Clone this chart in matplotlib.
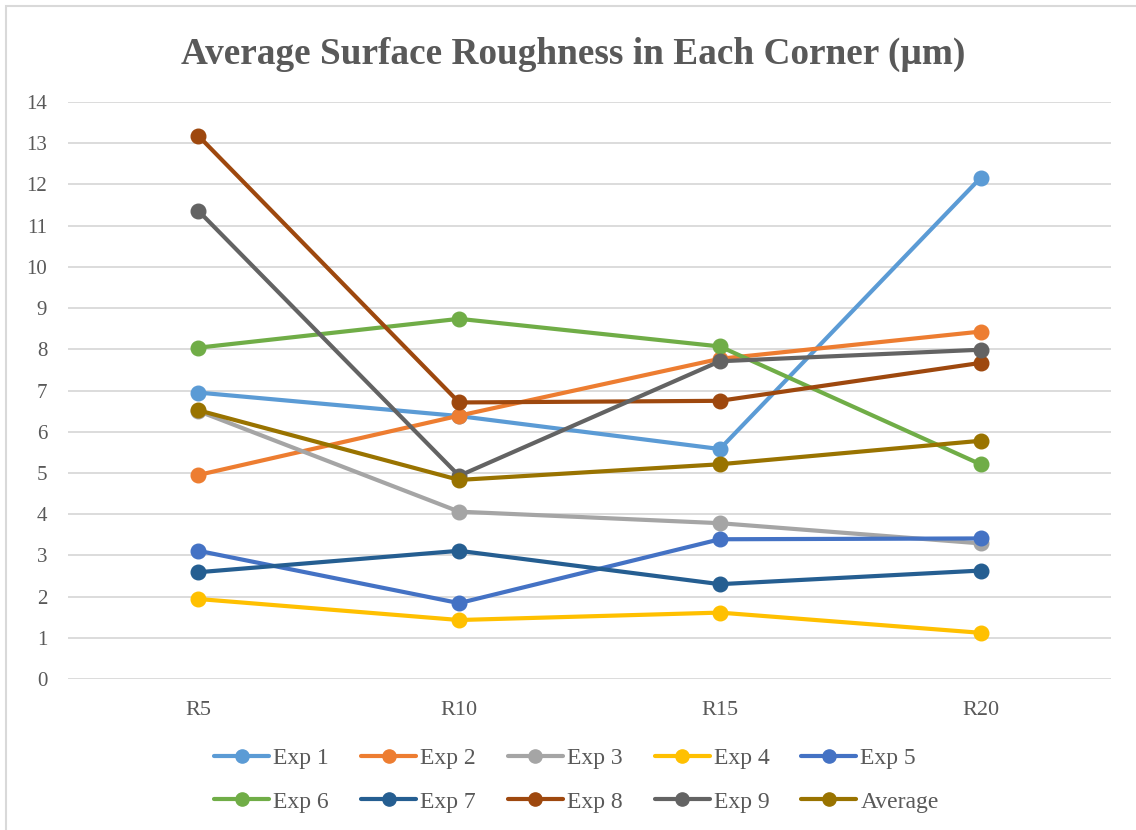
import matplotlib.pyplot as plt
from matplotlib.patches import Rectangle

# data
corners = ["R5", "R10", "R15", "R20"]
exp1 = [6.95, 6.38, 5.58, 12.16]
exp2 = [4.95, 6.39, 7.77, 8.43]
exp3 = [6.50, 4.06, 3.78, 3.29]
exp4 = [1.94, 1.43, 1.61, 1.12]
exp5 = [3.11, 1.84, 3.39, 3.41]
exp6 = [8.04, 8.74, 8.07, 5.21]
exp7 = [2.59, 3.11, 2.30, 2.63]
exp8 = [13.18, 6.71, 6.75, 7.67]
exp9 = [11.36, 4.93, 7.71, 7.99]
average = [6.52, 4.83, 5.21, 5.78]

series = [exp1, exp2, exp3, exp4, exp5, exp6, exp7, exp8, exp9, average]
names = ["Exp 1", "Exp 2", "Exp 3", "Exp 4", "Exp 5",
         "Exp 6", "Exp 7", "Exp 8", "Exp 9", "Average"]
colors = ["#5B9BD5", "#ED7D31", "#A5A5A5", "#FFC000", "#4472C4",
          "#70AD47", "#255E91", "#9E480E", "#636363", "#997300"]

plt.rcParams['font.family'] = ['Liberation Serif', 'DejaVu Serif']
text_col = "#595959"

fig = plt.figure(figsize=(11.36, 8.30), dpi=100)
ax = fig.add_axes([0.0599, 0.182, 0.918, 0.695])

xs = list(range(len(corners)))
handles = []
for vals, name, col in zip(series, names, colors):
    h, = ax.plot(xs, vals, color=col, lw=3, marker='o', markersize=10.5,
                 label=name, solid_capstyle='round')
    handles.append(h)

ax.set_xlim(-0.5, 3.5)
ax.set_ylim(0, 14)
ax.set_yticks(range(0, 15))
ax.set_xticks(xs)
ax.set_xticklabels(corners)
ax.tick_params(length=0, colors=text_col)
ax.tick_params(axis='x', labelsize=16, pad=16)
ax.tick_params(axis='y', labelsize=15, pad=15)
ax.grid(axis='y', color='#D9D9D9', lw=1.3)
ax.set_axisbelow(True)
for s in ax.spines.values():
    s.set_visible(False)

fig.suptitle("Average Surface Roughness in Each Corner (µm)", x=0.505, y=0.955,
             fontsize=26.8, fontweight='bold', color=text_col)

# legend filled row by row (5 per row), like the original
order = [0, 5, 1, 6, 2, 7, 3, 8, 4, 9]
leg = fig.legend([handles[i] for i in order], [names[i] for i in order],
                 loc='center', bbox_to_anchor=(0.5075, 0.0602), ncol=5, frameon=False,
                 fontsize=17, labelcolor=text_col, handlelength=2.33,
                 handletextpad=0.17, columnspacing=1.36, labelspacing=0.93)
for lh in leg.legend_handles:
    lh.set_markersize(9.5)

# chart border (only top and left edges fall inside the image)
fig.patches.append(Rectangle((0.0053, -0.1), 1.2, 1.0928, transform=fig.transFigure,
                             fill=False, edgecolor='#D9D9D9', lw=1.5))

fig.savefig("out.png", dpi=100)
